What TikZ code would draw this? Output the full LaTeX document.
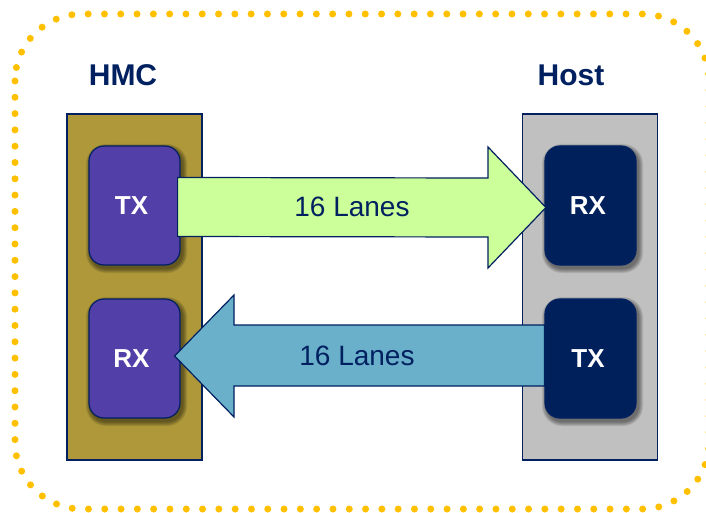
\documentclass[tikz,border=0pt]{standalone}
\usepackage{fontspec}
\setmainfont{Liberation Sans}
\usetikzlibrary{calc}
\definecolor{gold}{RGB}{255,192,0}
\definecolor{navy}{RGB}{0,32,96}
\definecolor{olive}{RGB}{174,152,58}
\definecolor{purp}{RGB}{83,63,168}
\definecolor{hostgray}{RGB}{192,192,192}
\definecolor{chipnavy}{RGB}{0,32,91}
\definecolor{lgreen}{RGB}{204,255,153}
\definecolor{lblue}{RGB}{106,176,202}
\newcommand\chipbox[4]{%
  \foreach \i in {1,...,5} {%
    \fill[black, opacity=0.1, rounded corners={15pt+\i pt}]
      ($(#2)+(-45.5-\i+2,-59.5-\i+3)$) rectangle ($(#2)+(45.5+\i+2,59.5+\i+3)$);
  }
  \node[chip, fill=#3] (#1) at (#2) {#4};
}
\begin{document}
\begin{tikzpicture}[x=1pt,y=-1pt,
  outline/.style={draw=gold, line width=7pt, dash pattern=on 0pt off 16.3pt, line cap=round, rounded corners=67pt},
  container/.style={draw=navy, line width=1.2pt, minimum width=135pt, minimum height=346pt, inner sep=0pt},
  chip/.style={draw=navy, line width=1.2pt, rounded corners=15pt, minimum width=91pt, minimum height=119pt, inner sep=0pt,
    text=white, font=\fontsize{26}{30}\selectfont\bfseries, text width=85pt, align=center},
  title/.style={text=navy, font=\fontsize{30}{34}\selectfont\bfseries, inner sep=0pt},
  bigarrow/.style={draw=navy, line width=1.2pt},
  lanes/.style={text=navy, font=\fontsize{28}{32}\selectfont, inner sep=0pt}]
\useasboundingbox (0,0) rectangle (706,513);
\draw[outline] (15,14) rectangle (709,509);
\node[title] (hmcl) at (123,75) {HMC};
\node[title] (hostl) at (571,75) {Host};
\node[container, fill=olive] (hmc) at (134.5,287) {};
\node[container, fill=hostgray] (host) at (590,287) {};
\chipbox{hmctx}{134.5,205.5}{purp}{TX\hspace*{6pt}}
\chipbox{hmcrx}{134.5,358.5}{purp}{RX\hspace*{6pt}}
\chipbox{hostrx}{590.5,205.5}{chipnavy}{RX\hspace*{5pt}}
\chipbox{hosttx}{590.5,358.5}{chipnavy}{TX\hspace*{5pt}}
% green arrow HMC TX -> Host RX
\coordinate (gtip) at ($(hostrx.west)+(1.5,2)$);
\draw[bigarrow, fill=lgreen] ($(hmctx.east)+(-3,-28)$) -- (488,178) -- (488,147) -- (gtip) -- (488,268) -- (488,237) -- ($(hmctx.east)+(-3,31)$) -- cycle;
\node[lanes] (l1) at (352,207) {16 Lanes};
% blue arrow Host TX -> HMC RX
\coordinate (btip) at ($(hmcrx.east)+(-6,-2.5)$);
\draw[bigarrow, fill=lblue] ($(hosttx.west)+(0,-33.5)$) -- (234,325) -- (234,295) -- (btip) -- (234,417) -- (234,386) -- ($(hosttx.west)+(0,27.5)$) -- cycle;
\node[lanes] (l2) at (357,356) {16 Lanes};
\end{tikzpicture}
\end{document}
